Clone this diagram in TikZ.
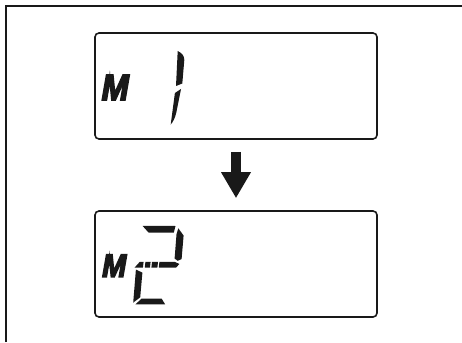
\documentclass[tikz,border=0pt]{standalone}
\usepackage{fontspec}
\setsansfont{Liberation Sans}
\newfontfamily\lcdfont[FakeBold=5]{Liberation Sans}
\usetikzlibrary{arrows.meta}
\begin{document}
\begin{tikzpicture}[x=1pt,y=-1pt,
  display/.style={draw=black!90,line width=1.6pt,rounded corners=4pt,minimum width=282pt,minimum height=106pt,inner sep=0pt},
  seg/.style={fill=black!90},
  mlabel/.style={text=black!90,inner sep=0pt,anchor=base west,font=\lcdfont\bfseries\itshape}]
\useasboundingbox (0,0) rectangle (462,342);
\draw[line width=1.6pt,black!90] (6,342) -- (6,6) -- (462,6);
\node[display] (disp1) at (236,86) {};
\node[display] (disp2) at (236,264) {};
\draw[black!90,line width=10pt,shorten <=12pt,shorten >=12pt,-{Triangle[length=26pt,width=28pt]}] (disp1.south) -- (disp2.north);
\node[mlabel] (m1) at (101.5,100) {\resizebox{27pt}{25pt}{M}};
\node[mlabel] (m2) at (102,276.8) {\resizebox{24pt}{22pt}{M}};
% digit 1
\fill[seg] (177.7,51) .. controls (182,53) and (184.4,56) .. (184.3,60) -- (182.3,83.5) -- (176,86) -- cycle;
\fill[seg] (181,89) -- (176.2,113) .. controls (175,118) and (173,122) .. (170.7,124.5) -- (174.9,93) -- cycle;
% digit 2
\fill[seg] (142.5,225.8) -- (175.5,226) -- (173.8,232.5) -- (148.5,232.5) -- cycle;
\fill[seg] (178.3,228.3) -- (183.6,235.5) -- (181.6,259) -- (177.8,260.8) -- (174.6,258.6) -- (176.5,234.3) -- cycle;
\fill[seg] (139.8,261.8) -- (143.6,261.8) -- (142.9,267.6) -- (134.6,267.6) -- cycle;
\foreach \a/\b in {145.4/150.6,152/158} \fill[seg] (\a,261.8) -- (\b,261.8) -- (\b-0.6,267.6) -- (\a-0.6,267.6) -- cycle;
\fill[seg] (159.4,261.8) -- (174.6,261.8) -- (179.4,264) -- (176,267.6) -- (158.8,267.6) -- cycle;
\fill[seg] (135.9,269.6) -- (142.4,272.6) -- (140.2,297.4) -- (133.2,302.6) -- cycle;
\fill[seg] (141.6,298.6) -- (161.6,298.6) -- (165.2,304.4) -- (135.4,304.4) -- cycle;
\end{tikzpicture}
\end{document}
